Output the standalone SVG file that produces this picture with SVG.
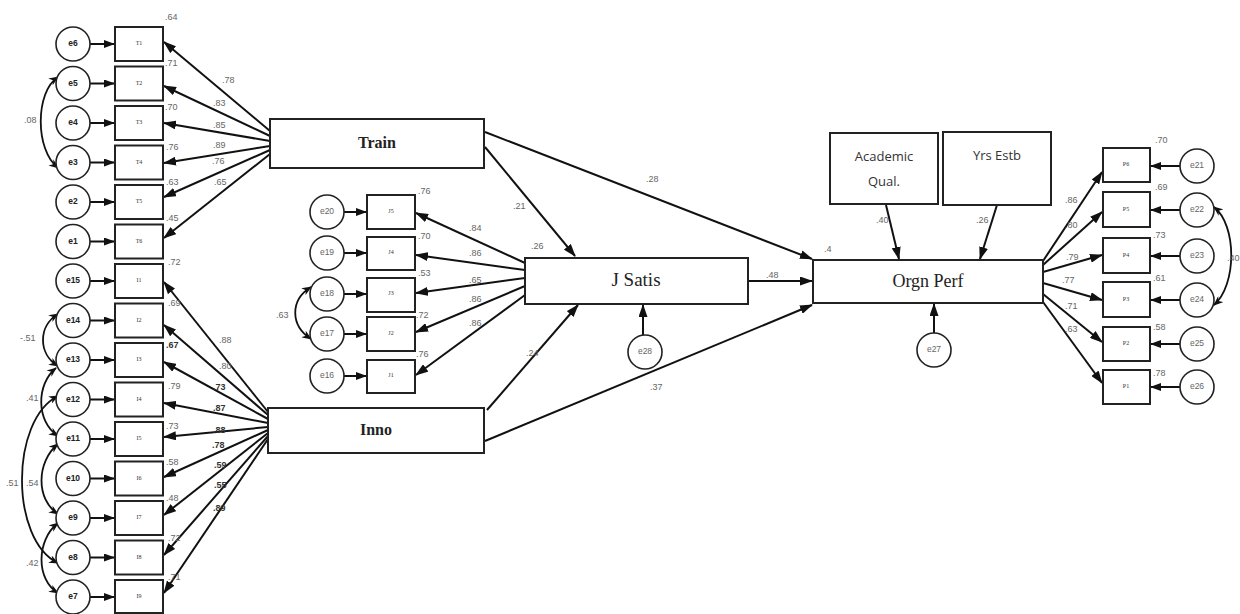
<svg xmlns="http://www.w3.org/2000/svg" width="1240" height="614" viewBox="0 0 1240 614">
  <style>
    .box { fill: #fff; stroke: #222; stroke-width: 2; }
    .circ { fill: #fff; stroke: #222; stroke-width: 1.6; }
    .ln { fill: none; stroke: #111; stroke-width: 2; }
    .cov { fill: none; stroke: #111; stroke-width: 1.8; }
    .num { font-family: "Liberation Sans", Arial, sans-serif; font-size: 9px; fill: #666; }
    .tiny { font-family: "Liberation Serif", serif; font-size: 6px; fill: #333; text-anchor: middle; dominant-baseline: middle; }
    .eb { font-family: "Liberation Sans", Arial, sans-serif; font-size: 8.5px; font-weight: bold; fill: #222; text-anchor: middle; dominant-baseline: middle; }
    .eg { font-family: "Liberation Sans", Arial, sans-serif; font-size: 8.5px; fill: #666; text-anchor: middle; dominant-baseline: middle; }
    .lat { font-family: "Liberation Serif", serif; fill: #222; text-anchor: middle; dominant-baseline: middle; }
    .sans { font-family: "Open Sans", "Liberation Sans", sans-serif; font-size: 13px; fill: #333; text-anchor: middle; }
  </style>
  <defs>
    <marker id="ah" markerWidth="13" markerHeight="9" refX="12" refY="4.5" orient="auto" markerUnits="userSpaceOnUse">
      <path d="M0,0 L13,4.5 L0,9 z" fill="#111"/>
    </marker>
    <marker id="ahs" markerWidth="11" markerHeight="8" refX="10" refY="4" orient="auto" markerUnits="userSpaceOnUse">
      <path d="M0,0 L11,4 L0,8 z" fill="#111"/>
    </marker>
    <marker id="ac" markerWidth="10" markerHeight="8" refX="9" refY="4" orient="auto-start-reverse" markerUnits="userSpaceOnUse">
      <path d="M0,0 L10,4 L0,8 L3,4 z" fill="#111"/>
    </marker>
  </defs>

  <!-- connectors -->
  <g id="connectors">
    <!-- error terms to indicators, left column -->
    <g class="ln" marker-end="url(#ahs)">
      <line x1="90" y1="44" x2="114" y2="44"/>
      <line x1="90" y1="83.5" x2="114" y2="83.5"/>
      <line x1="90" y1="123" x2="114" y2="123"/>
      <line x1="90" y1="162.5" x2="114" y2="162.5"/>
      <line x1="90" y1="202" x2="114" y2="202"/>
      <line x1="90" y1="241.5" x2="114" y2="241.5"/>
      <line x1="90" y1="281" x2="114" y2="281"/>
      <line x1="90" y1="320.5" x2="114" y2="320.5"/>
      <line x1="90" y1="360" x2="114" y2="360"/>
      <line x1="90" y1="399.5" x2="114" y2="399.5"/>
      <line x1="90" y1="439" x2="114" y2="439"/>
      <line x1="90" y1="478.5" x2="114" y2="478.5"/>
      <line x1="90" y1="518" x2="114" y2="518"/>
      <line x1="90" y1="557.5" x2="114" y2="557.5"/>
      <line x1="90" y1="597" x2="114" y2="597"/>
    </g>
    <!-- Train loadings -->
    <g class="ln" marker-end="url(#ah)">
      <line x1="270" y1="131" x2="164" y2="42"/>
      <line x1="270" y1="136" x2="164" y2="86"/>
      <line x1="270" y1="141" x2="164" y2="123"/>
      <line x1="270" y1="146" x2="164" y2="163"/>
      <line x1="270" y1="150" x2="164" y2="197"/>
      <line x1="270" y1="154" x2="164" y2="238"/>
    </g>
    <!-- Inno loadings -->
    <g class="ln" marker-end="url(#ah)">
      <line x1="268" y1="412" x2="164" y2="282"/>
      <line x1="268" y1="415" x2="164" y2="325"/>
      <line x1="268" y1="419" x2="164" y2="362"/>
      <line x1="268" y1="423" x2="164" y2="403"/>
      <line x1="268" y1="427" x2="164" y2="437"/>
      <line x1="268" y1="430" x2="164" y2="477"/>
      <line x1="268" y1="433" x2="164" y2="515"/>
      <line x1="268" y1="436" x2="164" y2="555"/>
      <line x1="268" y1="439" x2="164" y2="593"/>
    </g>
    <!-- J Satis block -->
    <g class="ln" marker-end="url(#ahs)">
      <line x1="344" y1="212" x2="366" y2="212"/>
      <line x1="344" y1="253" x2="366" y2="253"/>
      <line x1="344" y1="294" x2="366" y2="294"/>
      <line x1="344" y1="334" x2="366" y2="334"/>
      <line x1="344" y1="376" x2="366" y2="376"/>
    </g>
    <g class="ln" marker-end="url(#ah)">
      <line x1="525" y1="263" x2="416" y2="213"/>
      <line x1="525" y1="270" x2="416" y2="255"/>
      <line x1="525" y1="278" x2="416" y2="293"/>
      <line x1="525" y1="286" x2="416" y2="332"/>
      <line x1="525" y1="295" x2="416" y2="375"/>
    </g>
    <!-- structural paths -->
    <g class="ln" marker-end="url(#ah)">
      <line x1="485" y1="147" x2="575" y2="256"/>
      <line x1="485" y1="132" x2="812" y2="259"/>
      <line x1="487" y1="410" x2="578" y2="305"/>
      <line x1="485" y1="441" x2="812" y2="305"/>
      <line x1="748" y1="281" x2="812" y2="281"/>
      <line x1="886" y1="205" x2="899" y2="259"/>
      <line x1="997" y1="205" x2="980" y2="259"/>
      <line x1="643" y1="335" x2="643" y2="305"/>
      <line x1="934" y1="333" x2="934" y2="304"/>
    </g>
    <!-- Orgn Perf loadings -->
    <g class="ln" marker-end="url(#ah)">
      <line x1="1043" y1="261" x2="1102" y2="172"/>
      <line x1="1043" y1="265" x2="1102" y2="212"/>
      <line x1="1043" y1="272" x2="1102" y2="255"/>
      <line x1="1043" y1="283" x2="1102" y2="300"/>
      <line x1="1043" y1="294" x2="1102" y2="342"/>
      <line x1="1043" y1="302" x2="1102" y2="383"/>
    </g>
    <g class="ln" marker-end="url(#ahs)">
      <line x1="1180" y1="166" x2="1151" y2="166"/>
      <line x1="1180" y1="210" x2="1151" y2="210"/>
      <line x1="1180" y1="256" x2="1151" y2="256"/>
      <line x1="1180" y1="300" x2="1151" y2="300"/>
      <line x1="1180" y1="344" x2="1151" y2="344"/>
      <line x1="1180" y1="387" x2="1151" y2="387"/>
    </g>
    <!-- covariances -->
    <g class="cov" marker-start="url(#ac)" marker-end="url(#ac)">
      <path d="M58,77 C35,92 35,150 58,168"/>
      <path d="M58,314 C38,326 38,354 58,366"/>
      <path d="M56,368 C36,384 36,422 58,436"/>
      <path d="M58,396 C10,420 10,540 58,563"/>
      <path d="M58,444 C36,462 36,500 58,514"/>
      <path d="M58,523 C36,540 36,580 58,593"/>
      <path d="M311,287 C290,300 290,325 311,339"/>
      <path d="M1214,207 C1237,225 1237,285 1214,305"/>
    </g>
  </g>

  <!-- left column: Train indicators -->
  <g id="e6"><circle class="circ" cx="73" cy="44" r="17"/><text class="eb" x="73" y="44">e6</text></g>
  <g id="e5"><circle class="circ" cx="73" cy="83.5" r="17"/><text class="eb" x="73" y="83.5">e5</text></g>
  <g id="e4"><circle class="circ" cx="73" cy="123" r="17"/><text class="eb" x="73" y="123">e4</text></g>
  <g id="e3"><circle class="circ" cx="73" cy="162.5" r="17"/><text class="eb" x="73" y="162.5">e3</text></g>
  <g id="e2"><circle class="circ" cx="73" cy="202" r="17"/><text class="eb" x="73" y="202">e2</text></g>
  <g id="e1"><circle class="circ" cx="73" cy="241.5" r="17"/><text class="eb" x="73" y="241.5">e1</text></g>
  <g id="e15"><circle class="circ" cx="73" cy="281" r="17"/><text class="eb" x="73" y="281">e15</text></g>
  <g id="e14"><circle class="circ" cx="73" cy="320.5" r="17"/><text class="eb" x="73" y="320.5">e14</text></g>
  <g id="e13"><circle class="circ" cx="73" cy="360" r="17"/><text class="eb" x="73" y="360">e13</text></g>
  <g id="e12"><circle class="circ" cx="73" cy="399.5" r="17"/><text class="eb" x="73" y="399.5">e12</text></g>
  <g id="e11"><circle class="circ" cx="73" cy="439" r="17"/><text class="eb" x="73" y="439">e11</text></g>
  <g id="e10"><circle class="circ" cx="73" cy="478.5" r="17"/><text class="eb" x="73" y="478.5">e10</text></g>
  <g id="e9"><circle class="circ" cx="73" cy="518" r="17"/><text class="eb" x="73" y="518">e9</text></g>
  <g id="e8"><circle class="circ" cx="73" cy="557.5" r="17"/><text class="eb" x="73" y="557.5">e8</text></g>
  <g id="e7"><circle class="circ" cx="73" cy="597" r="17"/><text class="eb" x="73" y="597">e7</text></g>

  <g id="T1"><rect class="box" x="115" y="27" width="48" height="34"/><text class="tiny" x="139" y="44">T1</text></g>
  <g id="T2"><rect class="box" x="115" y="66.5" width="48" height="34"/><text class="tiny" x="139" y="83.5">T2</text></g>
  <g id="T3"><rect class="box" x="115" y="106" width="48" height="34"/><text class="tiny" x="139" y="123">T3</text></g>
  <g id="T4"><rect class="box" x="115" y="145.5" width="48" height="34"/><text class="tiny" x="139" y="162.5">T4</text></g>
  <g id="T5"><rect class="box" x="115" y="185" width="48" height="34"/><text class="tiny" x="139" y="202">T5</text></g>
  <g id="T6"><rect class="box" x="115" y="224.5" width="48" height="34"/><text class="tiny" x="139" y="241.5">T6</text></g>
  <g id="I1"><rect class="box" x="115" y="264" width="48" height="34"/><text class="tiny" x="139" y="281">I1</text></g>
  <g id="I2"><rect class="box" x="115" y="303.5" width="48" height="34"/><text class="tiny" x="139" y="320.5">I2</text></g>
  <g id="I3"><rect class="box" x="115" y="343" width="48" height="34"/><text class="tiny" x="139" y="360">I3</text></g>
  <g id="I4"><rect class="box" x="115" y="382.5" width="48" height="34"/><text class="tiny" x="139" y="399.5">I4</text></g>
  <g id="I5"><rect class="box" x="115" y="422" width="48" height="34"/><text class="tiny" x="139" y="439">I5</text></g>
  <g id="I6"><rect class="box" x="115" y="461.5" width="48" height="34"/><text class="tiny" x="139" y="478.5">I6</text></g>
  <g id="I7"><rect class="box" x="115" y="501" width="48" height="34"/><text class="tiny" x="139" y="518">I7</text></g>
  <g id="I8"><rect class="box" x="115" y="540.5" width="48" height="34"/><text class="tiny" x="139" y="557.5">I8</text></g>
  <g id="I9"><rect class="box" x="115" y="580" width="48" height="33"/><text class="tiny" x="139" y="597">I9</text></g>

  <!-- latent variables -->
  <g id="Train"><rect class="box" x="270" y="119" width="214" height="49"/><text class="lat" x="377" y="144" font-size="16" font-weight="bold">Train</text></g>
  <g id="Inno"><rect class="box" x="268" y="408" width="216" height="45"/><text class="lat" x="376" y="431" font-size="16" font-weight="bold">Inno</text></g>
  <g id="JSatis"><rect class="box" x="525" y="258" width="223" height="46"/><text class="lat" x="636" y="282" font-size="19">J Satis</text></g>
  <g id="OrgnPerf"><rect class="box" x="813" y="260" width="230" height="43"/><text class="lat" x="928" y="283" font-size="18">Orgn Perf</text></g>
  <g id="AcademicQual"><rect class="box" x="830" y="133" width="108" height="71"/><text class="sans" x="884" y="161">Academic</text><text class="sans" x="884" y="186">Qual.</text></g>
  <g id="YrsEstb"><rect class="box" x="943" y="132" width="108" height="73"/><text class="sans" x="997" y="160">Yrs Estb</text></g>
  <g id="e28"><circle class="circ" cx="645" cy="352" r="17"/><text class="eg" x="645" y="352">e28</text></g>
  <g id="e27"><circle class="circ" cx="934" cy="350" r="17"/><text class="eg" x="934" y="350">e27</text></g>

  <!-- J Satis indicators -->
  <g id="e20"><circle class="circ" cx="327" cy="212" r="17"/><text class="eg" x="327" y="212">e20</text></g>
  <g id="e19"><circle class="circ" cx="327" cy="253" r="17"/><text class="eg" x="327" y="253">e19</text></g>
  <g id="e18"><circle class="circ" cx="327" cy="294" r="17"/><text class="eg" x="327" y="294">e18</text></g>
  <g id="e17"><circle class="circ" cx="327" cy="334" r="17"/><text class="eg" x="327" y="334">e17</text></g>
  <g id="e16"><circle class="circ" cx="327" cy="376" r="17"/><text class="eg" x="327" y="376">e16</text></g>
  <g id="J5"><rect class="box" x="367" y="195" width="48" height="34"/><text class="tiny" x="391" y="212">J5</text></g>
  <g id="J4"><rect class="box" x="367" y="237" width="48" height="33"/><text class="tiny" x="391" y="253">J4</text></g>
  <g id="J3"><rect class="box" x="367" y="278" width="48" height="34"/><text class="tiny" x="391" y="294">J3</text></g>
  <g id="J2"><rect class="box" x="367" y="317" width="48" height="34"/><text class="tiny" x="391" y="334">J2</text></g>
  <g id="J1"><rect class="box" x="367" y="360" width="48" height="33"/><text class="tiny" x="391" y="376">J1</text></g>

  <!-- Orgn Perf indicators -->
  <g id="P6"><rect class="box" x="1103" y="148" width="47" height="34"/><text class="tiny" x="1126" y="165">P6</text></g>
  <g id="P5"><rect class="box" x="1103" y="192" width="47" height="35"/><text class="tiny" x="1126" y="210">P5</text></g>
  <g id="P4"><rect class="box" x="1103" y="238" width="47" height="35"/><text class="tiny" x="1126" y="256">P4</text></g>
  <g id="P3"><rect class="box" x="1103" y="282" width="47" height="35"/><text class="tiny" x="1126" y="300">P3</text></g>
  <g id="P2"><rect class="box" x="1103" y="327" width="47" height="34"/><text class="tiny" x="1126" y="344">P2</text></g>
  <g id="P1"><rect class="box" x="1103" y="370" width="47" height="34"/><text class="tiny" x="1126" y="387">P1</text></g>
  <g id="e21"><circle class="circ" cx="1197" cy="166" r="17"/><text class="eg" x="1197" y="166">e21</text></g>
  <g id="e22"><circle class="circ" cx="1197" cy="210" r="17"/><text class="eg" x="1197" y="210">e22</text></g>
  <g id="e23"><circle class="circ" cx="1197" cy="256" r="17"/><text class="eg" x="1197" y="256">e23</text></g>
  <g id="e24"><circle class="circ" cx="1197" cy="300" r="17"/><text class="eg" x="1197" y="300">e24</text></g>
  <g id="e25"><circle class="circ" cx="1197" cy="344" r="17"/><text class="eg" x="1197" y="344">e25</text></g>
  <g id="e26"><circle class="circ" cx="1197" cy="387" r="17"/><text class="eg" x="1197" y="387">e26</text></g>

  <!-- estimates -->
  <g id="estimates" class="num">
    <!-- squared multiple correlations, left column -->
    <text x="165" y="20">.64</text>
    <text x="165" y="66">.71</text>
    <text x="165" y="110">.70</text>
    <text x="166" y="150">.76</text>
    <text x="166" y="185">.63</text>
    <text x="166" y="221">.45</text>
    <text x="168" y="265">.72</text>
    <text x="168" y="306">.69</text>
    <text x="166" y="348" font-weight="bold" fill="#333">.67</text>
    <text x="168" y="389">.79</text>
    <text x="166" y="429">.73</text>
    <text x="166" y="465">.58</text>
    <text x="166" y="501">.48</text>
    <text x="168" y="541">.72</text>
    <text x="168" y="580">.71</text>
    <!-- Train loadings -->
    <text x="222" y="83">.78</text>
    <text x="213" y="106">.83</text>
    <text x="213" y="128">.85</text>
    <text x="213" y="148">.89</text>
    <text x="212" y="164">.76</text>
    <text x="214" y="185">.65</text>
    <!-- Inno loadings -->
    <text x="219" y="343">.88</text>
    <text x="219" y="369">.80</text>
    <text x="213" y="390" font-weight="bold" fill="#333">.73</text>
    <text x="213" y="411" font-weight="bold" fill="#333">.87</text>
    <text x="213" y="433" font-weight="bold" fill="#333">.88</text>
    <text x="212" y="448" font-weight="bold" fill="#333">.78</text>
    <text x="214" y="468" font-weight="bold" fill="#333">.59</text>
    <text x="214" y="488" font-weight="bold" fill="#333">.55</text>
    <text x="213" y="511" font-weight="bold" fill="#333">.89</text>
    <!-- left covariances -->
    <text x="24" y="123">.08</text>
    <text x="20" y="341">-.51</text>
    <text x="26" y="401">.41</text>
    <text x="6" y="486">.51</text>
    <text x="26" y="486">.54</text>
    <text x="26" y="566">.42</text>
    <!-- J Satis block -->
    <text x="418" y="194">.76</text>
    <text x="418" y="239">.70</text>
    <text x="418" y="276">.53</text>
    <text x="416" y="318">.72</text>
    <text x="416" y="357">.76</text>
    <text x="469" y="231">.84</text>
    <text x="469" y="256">.86</text>
    <text x="469" y="283">.65</text>
    <text x="469" y="302">.86</text>
    <text x="469" y="326">.86</text>
    <text x="276" y="318">.63</text>
    <!-- structural estimates -->
    <text x="513" y="209">.21</text>
    <text x="646" y="182">.28</text>
    <text x="531" y="249">.26</text>
    <text x="526" y="356">.24</text>
    <text x="650" y="390">.37</text>
    <text x="766" y="278">.48</text>
    <text x="824" y="252">.4</text>
    <text x="876" y="223">.40</text>
    <text x="976" y="223">.26</text>
    <!-- Orgn Perf block -->
    <text x="1155" y="143">.70</text>
    <text x="1155" y="190">.69</text>
    <text x="1153" y="238">.73</text>
    <text x="1153" y="281">.61</text>
    <text x="1153" y="330">.58</text>
    <text x="1153" y="376">.78</text>
    <text x="1065" y="203">.86</text>
    <text x="1065" y="228">.80</text>
    <text x="1066" y="260">.79</text>
    <text x="1062" y="283">.77</text>
    <text x="1065" y="309">.71</text>
    <text x="1065" y="332">.63</text>
    <text x="1227" y="261">.40</text>
  </g>
</svg>
